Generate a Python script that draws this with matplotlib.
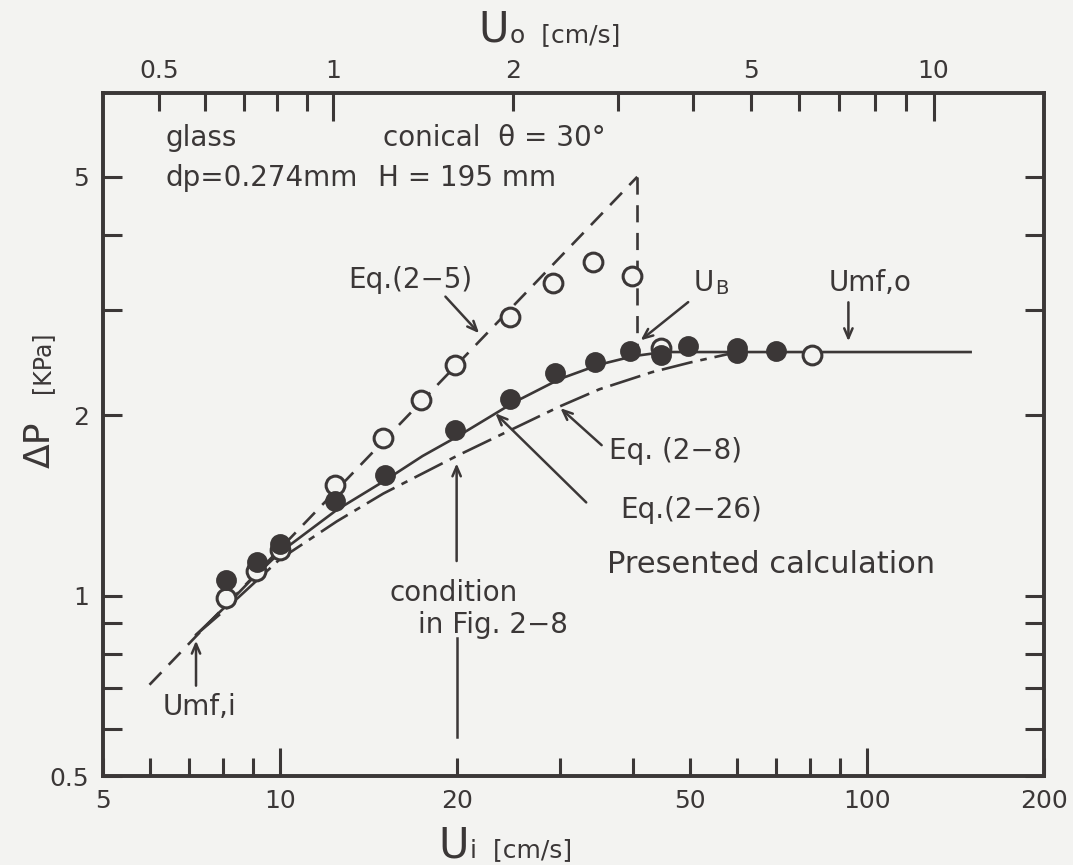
"""
Pressure drop vs inlet velocity for a conical spouted bed (glass beads).
Log-log plot, bottom axis Ui, top axis Uo.
"""
import numpy as np
import matplotlib.pyplot as plt

INK = "#3b3737"
BG = "#f3f3f1"

# ---------------------------------------------------------------- data
# measured points, open circles
ui_open = [8.1, 9.1, 10.0, 12.4, 15.0, 17.4, 19.9, 24.7, 29.2, 34.2, 39.8, 44.5, 80.4]
dp_open = [0.99, 1.10, 1.19, 1.53, 1.83, 2.12, 2.43, 2.92, 3.33, 3.60, 3.42, 2.59, 2.52]

# measured points, filled circles
ui_fill = [8.1, 9.15, 10.0, 12.4, 15.1, 19.9, 24.7, 29.4, 34.4, 39.5, 44.5, 49.6, 60.0, 60.0, 70.0]
dp_fill = [1.06, 1.14, 1.22, 1.44, 1.59, 1.89, 2.13, 2.35, 2.45, 2.56, 2.52, 2.61, 2.59, 2.54, 2.56]

# Eq.(2-26), presented calculation (solid)
ui_eq226 = [7.2, 8.0, 9.0, 10.0, 12.5, 15.0, 17.5, 20.0, 25.0, 30.0, 35.0, 40.0, 45.0, 50.0, 150.0]
dp_eq226 = [0.86, 0.95, 1.07, 1.18, 1.39, 1.55, 1.71, 1.84, 2.10, 2.30, 2.43, 2.51, 2.55, 2.55, 2.55]

# Eq.(2-8) (dash-dot)
ui_eq28 = [7.2, 8.0, 10.0, 12.5, 15.0, 20.0, 25.0, 30.0, 35.0, 43.0, 50.0, 58.0, 60.0]
dp_eq28 = [0.86, 0.94, 1.15, 1.33, 1.48, 1.71, 1.90, 2.07, 2.21, 2.36, 2.45, 2.53, 2.55]

# Eq.(2-5) (dashed) and drop at U_B
ui_eq25 = [6.0, 40.6]
dp_eq25 = [0.71, 5.0]
ui_ub = [40.6, 40.6]
dp_ub = [5.0, 2.55]

# top axis: Uo value and the Ui it sits above
uo_knots = [0.5, 1.0, 2.0, 5.0, 10.0]
ui_knots = [6.23, 12.33, 24.97, 63.3, 129.7]
uo_major = [1, 10]
uo_minor = [0.5, 0.6, 0.7, 0.8, 0.9, 2, 3, 4, 5, 6, 7, 8, 9]
uo_minor_lab = ["0.5", "", "", "", "", "2", "", "", "5", "", "", "", ""]

ui_major = [10, 100]
ui_minor = [5, 6, 7, 8, 9, 20, 30, 40, 50, 60, 70, 80, 90, 200]
ui_minor_lab = ["5", "", "", "", "", "20", "", "", "50", "", "", "", "", "200"]
dp_major = [0.5, 1, 2, 5]
dp_minor = [0.6, 0.7, 0.8, 0.9, 3, 4]


def ui_of_uo(u):
    return 10 ** np.interp(np.log10(u), np.log10(uo_knots), np.log10(ui_knots))


W, H = 1073, 865
fig = plt.figure(figsize=(W / 100, H / 100), dpi=100, facecolor=BG)
ax = fig.add_axes([103 / W, 1 - 776 / H, 941 / W, 683 / H], facecolor=BG)
plt.rcParams["font.family"] = "DejaVu Sans"

ax.set_xscale("log")
ax.set_yscale("log")
ax.set_xlim(5, 200)
ax.set_ylim(0.5, 6.9)

lw = 1.9
ax.plot(ui_eq25, dp_eq25, color=INK, lw=lw, linestyle=(0, (6.5, 4)))
ax.plot(ui_ub, dp_ub, color=INK, lw=lw, linestyle=(0, (6.5, 4)))
ax.plot(ui_eq226, dp_eq226, color=INK, lw=lw)
ax.plot(ui_eq28, dp_eq28, color=INK, lw=lw, linestyle=(0, (12, 3, 2.5, 3)))

ax.plot(ui_open, dp_open, "o", ms=13.5, mfc=BG, mec=INK, mew=2.2, zorder=4)
ax.plot(ui_fill, dp_fill, "o", ms=13.5, mfc=INK, mec=INK, mew=1.5, zorder=5)

# ---- ticks
for s in ax.spines.values():
    s.set_linewidth(2.6)
    s.set_color(INK)
ax.set_xticks(ui_major)
ax.set_xticklabels([str(v) for v in ui_major])
ax.set_xticks(ui_minor, minor=True)
ax.set_xticklabels(ui_minor_lab, minor=True)
ax.set_yticks(dp_major)
ax.set_yticklabels(["0.5", "1", "2", "5"])
ax.set_yticks(dp_minor, minor=True)
ax.set_yticklabels([], minor=True)
ax.tick_params(axis="x", which="major", direction="in", length=20, width=2.2,
               color=INK, labelcolor=INK, labelsize=18, pad=9, top=False)
ax.tick_params(axis="x", which="minor", direction="in", length=13, width=2.2,
               color=INK, labelcolor=INK, labelsize=18, pad=9, top=False)
ax.tick_params(axis="y", which="both", direction="in", length=14, width=2.2,
               color=INK, labelcolor=INK, labelsize=18, pad=10, right=True)

ax2 = ax.twiny()
ax2.set_xscale("log")
ax2.set_xlim(ax.get_xlim())
ax2.set_xticks(ui_of_uo(uo_major))
ax2.set_xticklabels([str(v) for v in uo_major])
ax2.set_xticks(ui_of_uo(uo_minor), minor=True)
ax2.set_xticklabels(uo_minor_lab, minor=True)
ax2.tick_params(axis="x", which="major", direction="in", length=20, width=2.2,
                color=INK, labelcolor=INK, labelsize=18, pad=7)
ax2.tick_params(axis="x", which="minor", direction="in", length=13, width=2.2,
                color=INK, labelcolor=INK, labelsize=18, pad=7)
for s in ax2.spines.values():
    s.set_linewidth(2.6)
    s.set_color(INK)

# ---- axis titles
fig.text(438 / W, 1 - 845 / H, "U", fontsize=30, color=INK, va="center")
fig.text(470 / W, 1 - 850 / H, "i  [cm/s]", fontsize=18, color=INK, va="center")
fig.text(478 / W, 1 - 30 / H, "U", fontsize=30, color=INK, va="center")
fig.text(510 / W, 1 - 35 / H, "o  [cm/s]", fontsize=18, color=INK, va="center")
fig.text(40 / W, 1 - 445 / H, "ΔP", fontsize=26, color=INK, rotation=90,
         ha="center", va="center")
fig.text(42 / W, 1 - 362 / H, "[KPa]", fontsize=17, color=INK, rotation=90,
         ha="center", va="center")

# ---- notes
tx = dict(color=INK, fontsize=20)
ax.text(0.066, 0.934, "glass", transform=ax.transAxes, va="center", **tx)
ax.text(0.066, 0.876, "dp=0.274mm", transform=ax.transAxes, va="center", **tx)
ax.text(0.298, 0.934, "conical  θ = 30°", transform=ax.transAxes, va="center", **tx)
ax.text(0.292, 0.876, "H = 195 mm", transform=ax.transAxes, va="center", **tx)

arr = dict(arrowstyle="->,head_length=0.7,head_width=0.3", color=INK, lw=1.8)

ax.text(16.7, 3.36, "Eq.(2\u22125)", ha="center", va="center", **tx)
ax.annotate("", xy=(22.0, 2.72), xytext=(19.0, 3.18), arrowprops=arr)

ax.text(50.6, 3.33, "U", ha="left", va="center", **tx)
ax.text(55.2, 3.25, "B", ha="left", va="center", color=INK, fontsize=14)
ax.annotate("", xy=(40.8, 2.65), xytext=(50.0, 3.11), arrowprops=arr)

ax.text(101, 3.33, "Umf,o", ha="center", va="center", **tx)
ax.annotate("", xy=(92.9, 2.63), xytext=(92.9, 3.12), arrowprops=arr)

ax.text(36.4, 1.74, "Eq. (2\u22128)", ha="left", va="center", **tx)
ax.annotate("", xy=(29.8, 2.07), xytext=(35.6, 1.77), arrowprops=arr)

ax.text(38.0, 1.39, "Eq.(2\u221226)", ha="left", va="center", **tx)
ax.annotate("", xy=(23.1, 2.03), xytext=(33.5, 1.42), arrowprops=arr)

ax.text(36.0, 1.125, "Presented calculation", ha="left", va="center",
        color=INK, fontsize=22)

ax.text(15.4, 1.01, "condition", ha="left", va="center", **tx)
ax.text(17.2, 0.894, "in Fig. 2\u22128", ha="left", va="center", **tx)
ax.annotate("", xy=(20, 1.68), xytext=(20, 1.13), arrowprops=arr)
ax.plot([20, 20], [0.85, 0.58], color=INK, lw=1.8)

ax.text(7.31, 0.652, "Umf,i", ha="center", va="center", **tx)
ax.annotate("", xy=(7.2, 0.85), xytext=(7.2, 0.70), arrowprops=arr)

fig.savefig("out.png", dpi=100, facecolor=BG)
